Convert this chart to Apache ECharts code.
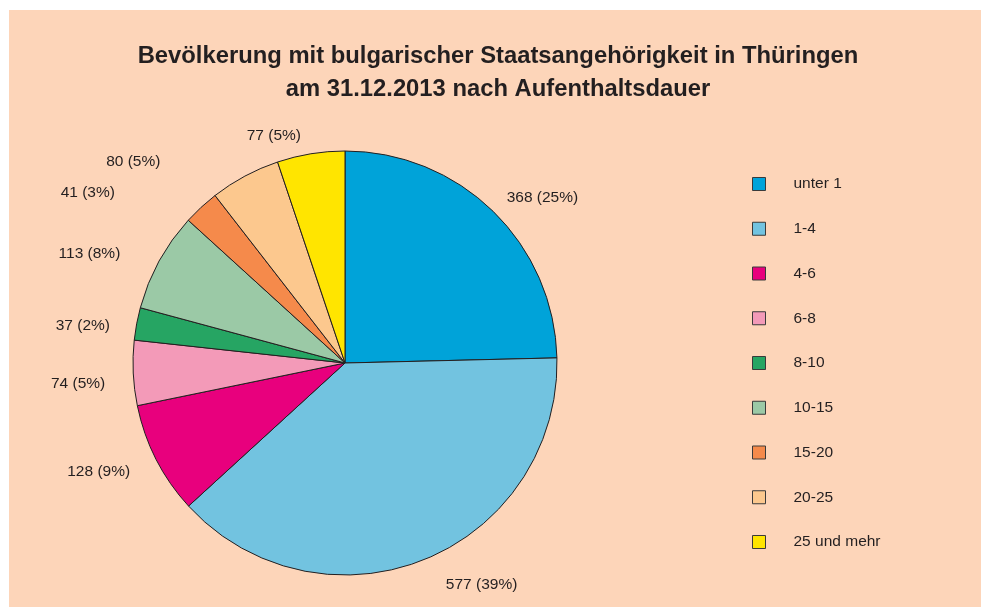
<!DOCTYPE html>
<html>
<head>
<meta charset="utf-8">
<script src="https://cdn.jsdelivr.net/npm/echarts@6/dist/echarts.min.js"></script>
<style>
html,body{margin:0;padding:0;background:#ffffff;width:981px;height:607px;overflow:hidden;}
#chart{position:absolute;left:9px;top:10px;width:972px;height:597px;background:#fdd5b9;}
</style>
</head>
<body>
<div id="chart"></div>
<script>
const titleText = 'Bevölkerung mit bulgarischer Staatsangehörigkeit in Thüringen\nam 31.12.2013 nach Aufenthaltsdauer';
const categories = ['unter 1', '1-4', '4-6', '6-8', '8-10', '10-15', '15-20', '20-25', '25 und mehr'];
const values = [368, 577, 128, 74, 37, 113, 41, 80, 77];
const colors = ['#00a3d9', '#72c3e0', '#e8007d', '#f39ab8', '#26a563', '#9bc9a6', '#f58a4b', '#fcc88e', '#ffe500'];

// label nudges (style only, in px) to mimic the original label placement
const labelNudge = [[-12, -1], [2, 8], [3, 4], [3, 10], [4, 5], [-10, 1], [-61, -1], [-63, 1], [6, 0]];

const total = values.reduce((a, b) => a + b, 0);
const chart = echarts.init(document.getElementById('chart'), null, {renderer: 'canvas'});
chart.setOption({
  backgroundColor: '#fdd5b9',
  animation: false,
  title: {
    text: titleText,
    left: 484,
    top: 25,
    textAlign: 'center',
    textStyle: {fontFamily: 'Liberation Sans', fontWeight: 'bold', fontSize: 23.8, color: '#231f20', lineHeight: 33}
  },
  legend: {
    orient: 'vertical',
    left: 738,
    top: 161,
    itemWidth: 13,
    itemHeight: 13,
    itemGap: 28.75,
    icon: 'rect',
    itemStyle: {borderColor: '#3a3a3a', borderWidth: 1},
    textStyle: {fontFamily: 'Liberation Sans', fontSize: 15.5, color: '#231f20', padding: [0, 0, 0, 23]},
    data: categories
  },
  series: [{
    type: 'pie',
    center: [336, 353],
    radius: 212,
    startAngle: 90,
    clockwise: true,
    avoidLabelOverlap: false,
    itemStyle: {borderColor: '#231f20', borderWidth: 1},
    label: {
      show: true,
      position: 'outside',
      fontFamily: 'Liberation Sans',
      fontSize: 15.5,
      color: '#231f20',
      formatter: p => p.value + ' (' + Math.round(p.value / total * 100) + '%)'
    },
    labelLine: {show: false, length: 18, length2: 8},
    labelLayout: p => ({dx: labelNudge[p.dataIndex][0], dy: labelNudge[p.dataIndex][1]}),
    data: categories.map((c, i) => ({name: c, value: values[i], itemStyle: {color: colors[i]}}))
  }]
});
</script>
</body>
</html>
